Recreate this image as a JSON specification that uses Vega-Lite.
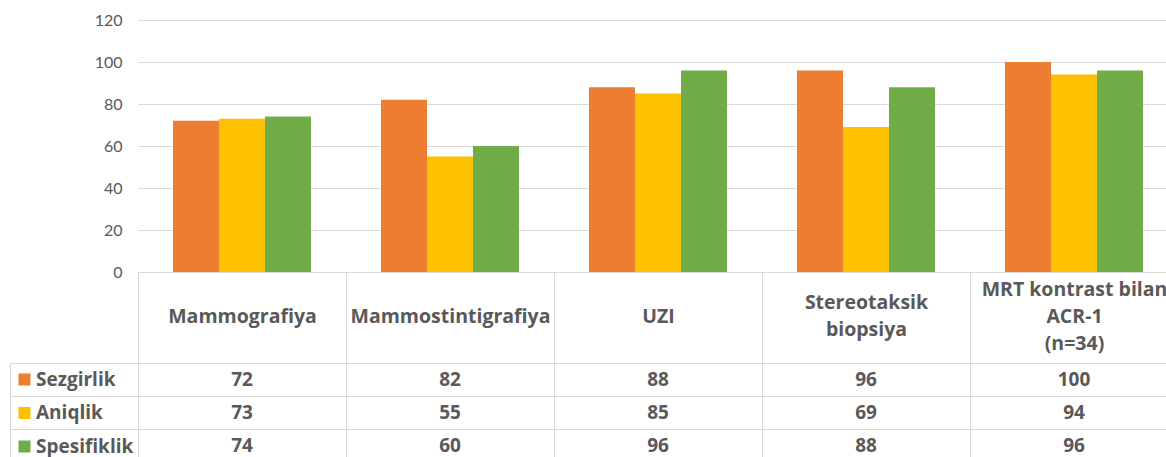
{
  "$schema": "https://vega.github.io/schema/vega-lite/v6.json",
  "width": 1028,
  "height": 437,
  "autosize": {"type": "none"},
  "padding": {"left": 138, "top": 20, "right": 0, "bottom": 0},
  "background": "white",
  "config": {"view": {"stroke": null}, "font": "Open Sans"},
  "data": {
    "values": [
      {"method": "Mammografiya", "metric": "Sezgirlik", "value": 72},
      {"method": "Mammografiya", "metric": "Aniqlik", "value": 73},
      {"method": "Mammografiya", "metric": "Spesifiklik", "value": 74},
      {"method": "Mammostintigrafiya", "metric": "Sezgirlik", "value": 82},
      {"method": "Mammostintigrafiya", "metric": "Aniqlik", "value": 55},
      {"method": "Mammostintigrafiya", "metric": "Spesifiklik", "value": 60},
      {"method": "UZI", "metric": "Sezgirlik", "value": 88},
      {"method": "UZI", "metric": "Aniqlik", "value": 85},
      {"method": "UZI", "metric": "Spesifiklik", "value": 96},
      {"method": "Stereotaksik biopsiya", "metric": "Sezgirlik", "value": 96},
      {"method": "Stereotaksik biopsiya", "metric": "Aniqlik", "value": 69},
      {"method": "Stereotaksik biopsiya", "metric": "Spesifiklik", "value": 88},
      {"method": "MRT kontrast bilan ACR-1 (n=34)", "metric": "Sezgirlik", "value": 100},
      {"method": "MRT kontrast bilan ACR-1 (n=34)", "metric": "Aniqlik", "value": 94},
      {"method": "MRT kontrast bilan ACR-1 (n=34)", "metric": "Spesifiklik", "value": 96}
    ]
  },
  "layer": [
    {
      "mark": {"type": "bar"},
      "encoding": {
        "x": {
          "field": "method", "type": "nominal", "sort": null,
          "scale": {"range": [0, 1040], "paddingInner": 0, "paddingOuter": 0},
          "axis": {
            "orient": "bottom", "offset": -185, "title": null, "labelAngle": 0,
            "labelExpr": "datum.label == 'Stereotaksik biopsiya' ? ['\u200b', 'Stereotaksik', '\u200b', 'biopsiya'] : datum.label == 'MRT kontrast bilan ACR-1 (n=34)' ? ['MRT kontrast bilan', '\u200b', 'ACR-1', '\u200b', '(n=34)'] : ['\u200b', '\u200b', datum.label]",
            "labelFont": "Open Sans", "labelFontSize": 19.5, "labelFontWeight": "bold", "labelColor": "#595959",
            "labelBaseline": "middle", "labelLineHeight": 13.5, "labelPadding": -173, "labelLimit": 0,
            "tickBand": "extent", "tickSize": 190, "tickColor": "#d9d9d9", "domainColor": "#d9d9d9",
            "grid": false
          }
        },
        "xOffset": {
          "field": "metric", "type": "nominal", "sort": ["Sezgirlik", "Aniqlik", "Spesifiklik"],
          "scale": {"paddingInner": 0, "paddingOuter": 0.761}
        },
        "y": {
          "field": "value", "type": "quantitative",
          "scale": {"domain": [-88.095, 120], "nice": false},
          "axis": {
            "orient": "left", "title": null, "values": [0, 20, 40, 60, 80, 100, 120],
            "domain": false, "ticks": false, "labelPadding": 16, "labelFont": "Lato", "labelFontSize": 16,
            "labelColor": "#595959", "gridColor": "#d9d9d9", "grid": true
          }
        },
        "color": {
          "field": "metric", "type": "nominal", "sort": ["Sezgirlik", "Aniqlik", "Spesifiklik"],
          "scale": {"domain": ["Sezgirlik", "Aniqlik", "Spesifiklik"], "range": ["#ED7D31", "#FFC000", "#70AD47"]},
          "legend": {
            "orient": "none", "legendX": -123, "legendY": 350, "title": null,
            "symbolType": "square", "symbolSize": 144, "symbolStrokeWidth": 0,
            "labelFont": "Open Sans", "labelFontSize": 19, "labelFontWeight": "bold", "labelColor": "#595959",
            "labelOffset": 2, "rowPadding": 13.5, "padding": 0
          }
        }
      }
    },
    {
      "mark": {"type": "text", "font": "Open Sans", "fontSize": 19, "fontWeight": "bold", "color": "#595959", "baseline": "middle"},
      "encoding": {
        "x": {"field": "method", "type": "nominal", "sort": null},
        "y": {
          "field": "metric", "type": "nominal", "sort": ["Sezgirlik", "Aniqlik", "Spesifiklik"],
          "scale": {"range": [343, 442], "paddingInner": 0, "paddingOuter": 0},
          "axis": {
            "orient": "left", "offset": 128, "labels": false, "title": null,
            "domain": true, "domainColor": "#d9d9d9", "ticks": true, "tickSize": -128,
            "tickColor": "#d9d9d9", "tickBand": "extent", "grid": true, "gridColor": "#d9d9d9"
          }
        },
        "text": {"field": "value", "type": "quantitative"}
      }
    }
  ],
  "resolve": {"scale": {"y": "independent"}}
}
